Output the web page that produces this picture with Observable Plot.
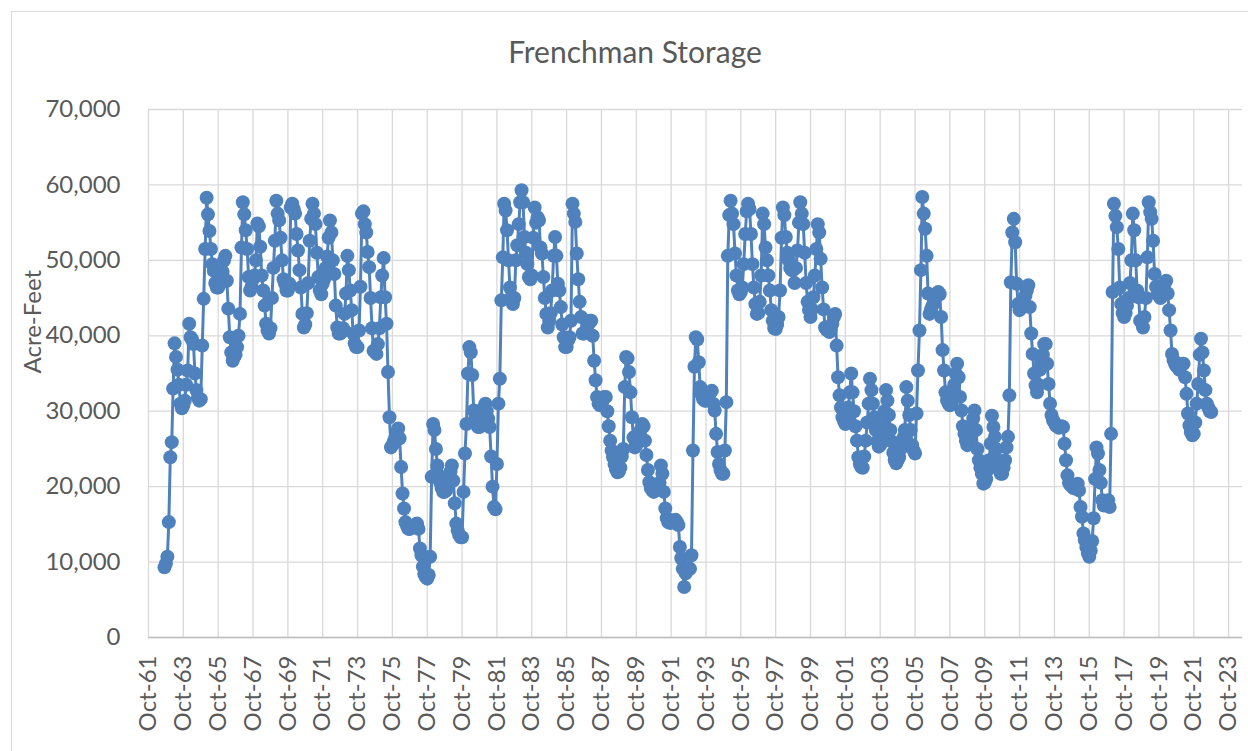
<!DOCTYPE html>
<html>
<head>
<meta charset="utf-8">
<script src="https://cdn.jsdelivr.net/npm/d3@7"></script>
<script src="https://cdn.jsdelivr.net/npm/@observablehq/plot@0.6"></script>
<style>
  html, body { margin: 0; padding: 0; background: #fff; overflow: hidden; }
  #wrap { position: relative; width: 1248px; height: 751px; overflow: hidden; font-family: Lato, "Open Sans", sans-serif; }
  #border { position: absolute; left: 11px; top: 11px; right: -10px; bottom: -10px; border: 1px solid #d9d9d9; pointer-events: none; }
  #title { position: absolute; left: 22px; width: 1226px; top: 33px; text-align: center; font-size: 30px; color: #595959; }
  #chart { position: absolute; left: 0; top: 0; }
</style>
</head>
<body>
<div id="wrap">
  <div id="chart"></div>
  <div id="border"></div>
  <div id="title">Frenchman Storage</div>
</div>
<script>
// Monthly storage in thousand acre-feet, first value = Sep 1962.
const firstMonth = [1962, 8]; // year, month index (Sep)

const storage1960s = [
  9.3,
  9.8, 10.7, 15.3, 23.9, 25.9, 33, 39, 37.2, 35.5, 33.5, 31, 30.4,
  30.8, 31.4, 33.5, 35.4, 41.6, 39.8, 39.5, 38.9, 35, 32.8, 31.8, 31.4,
  31.6, 38.7, 44.9, 51.5, 58.3, 56.1, 53.9, 51.5, 49.5, 48.6, 47, 46.4,
  46.4, 46.8, 47.5, 48.5, 50, 50.6, 47.3, 43.6, 39.8, 37.8, 36.7, 37.2,
  37.5, 38.5, 40, 42.9, 51.7, 57.7, 56.1, 54, 51.5, 47.8, 46, 46.5,
  47.5, 48, 50, 54.9, 54.5, 51.8, 48, 46, 44, 41.6, 40.7, 40.3,
  41, 45, 49, 52.6, 57.9, 56.2, 55.3, 53, 50, 47.5, 46.9, 46,
  46, 46.9, 57, 57.5, 56.8, 56.2, 53.5, 51.3, 48.7, 46.4, 42.9, 41.1
];
const storage1970s = [
  41.5, 43, 47, 52.6, 55.5, 57.5, 56.2, 54.8, 51, 47.8, 46, 45.5,
  46.9, 47.5, 49, 50.5, 53, 55.3, 53.7, 50, 48.2, 44, 41.1, 40.3,
  40.3, 40.5, 41, 42.9, 45.6, 50.6, 48.7, 46, 43.4, 40.3, 39, 38.5,
  38.5, 40.7, 46.5, 56.2, 56.5, 54.8, 53.7, 51.1, 49.1, 45, 41, 38,
  38, 37.6, 38.9, 41, 45.1, 48, 50.3, 45.1, 41.6, 35.2, 29.2, 25.2,
  25.5, 26, 26.5, 27.2, 27.7, 26.4, 22.6, 19.1, 17.1, 15.3, 14.8, 14.4,
  14.4, 14.5, 14.6, 14.8, 15, 15.1, 14.4, 11.8, 10.9, 9.4, 8.4, 8.0,
  7.8, 8.3, 10.7, 21.3, 28.3, 27.5, 25, 22.8, 21.5, 20.5, 19.8, 19.3,
  19.3, 19.5, 20.2, 21, 22, 22.8, 20.8, 17.8, 15.1, 14.2, 13.6, 13.3,
  13.3, 19.3, 24.4, 28.3, 35, 38.5, 37.8, 34.8, 30.1, 29, 28.3, 27.9
];
const storage1980s = [
  27.9, 28.5, 29.5, 30.5, 31, 30, 29, 27.9, 24, 20, 17.3, 17,
  23, 31, 34.3, 44.7, 50.4, 57.5, 56.6, 54, 50, 46.4, 45.1, 44.2,
  45, 50, 52, 54.8, 57.7, 59.3, 57.7, 53.1, 51, 49.5, 47.8, 47.5,
  48, 53, 57, 55, 55.7, 55.3, 51.7, 50.9, 47.8, 45, 42.9, 41.1,
  42, 43, 46, 50.6, 53.1, 50.6, 46.9, 46, 43.8, 41.5, 39.8, 38.5,
  38.5, 39.4, 39.8, 42, 57.5, 56.2, 55.1, 50.9, 47.5, 44.5, 42.5, 40.3,
  40.3, 40.5, 41, 41.5, 42, 42, 40, 36.7, 34.1, 31.9, 31, 30.8,
  31, 31.5, 31.9, 31.9, 30, 28, 26.1, 24.8, 23.9, 23, 22.3, 21.9,
  22, 22.5, 24, 25, 33.2, 37.2, 37, 35.2, 32.5, 29.2, 26.5, 25.2,
  25.5, 26, 26.5, 27.5, 28.3, 28, 26.1, 24.2, 22.2, 20.6, 19.8, 19.5
];
const storage1990s = [
  19.3, 19.5, 19.8, 20, 20.5, 22.8, 21.7, 19.3, 17.1, 15.8, 15.3, 15.2,
  15.2, 15.3, 15.5, 15.6, 15.3, 14.9, 12, 10.5, 9.1, 6.7, 8.5, 9,
  9.2, 9.1, 10.9, 24.8, 35.9, 39.8, 39.5, 36.5, 33.2, 32.2, 31.6, 31.4,
  31.4, 31.8, 32.3, 32.5, 32.7, 31, 30.1, 27, 24.6, 23, 22.2, 21.7,
  21.7, 24.8, 31.2, 50.6, 56, 57.9, 56.2, 54.8, 50.9, 48, 46, 45.5,
  45.8, 46.4, 49.5, 53.5, 56.5, 57.5, 56.8, 53.5, 49.5, 46.4, 44.2, 42.9,
  43, 44.5, 48, 56.2, 54.8, 51.7, 50, 48, 46, 43.4, 42, 41,
  40.9, 41.5, 42.5, 46, 53, 57, 56, 53.1, 51, 50, 49, 48.7,
  48.7, 47, 49, 51.3, 55, 57.7, 56.2, 54.8, 51, 47, 44.5, 43.4,
  42.5, 43.5, 45.1, 48, 51.5, 54.8, 53.7, 50.2, 46.4, 43.5, 41.1, 40.8
];
const storage2000s = [
  40.7, 40.5, 40.8, 41.6, 42.5, 42.9, 38.7, 34.5, 32.1, 30.5, 29.2, 28.7,
  28.3, 28.8, 30.5, 32.5, 35, 32.5, 30, 28, 26.1, 23.9, 23, 22.6,
  22.5, 24, 26.1, 28.5, 31, 34.3, 32.8, 31, 29.2, 27.5, 26, 25.3,
  25.5, 26.5, 28.3, 30, 32.8, 31.4, 29.5, 27.5, 26, 24.5, 23.5, 23.1,
  23.5, 23.9, 25, 26, 26.5, 27.5, 33.2, 31.4, 29.5, 27.5, 25.5, 24.8,
  24.4, 29.7, 35.4, 40.7, 48.7, 58.4, 56.2, 54.2, 50.6, 45.6, 42.9, 43.5,
  44, 44.5, 45, 45.5, 45.8, 45.5, 42.5, 38.1, 35.4, 32.5, 31.5, 31,
  30.8, 31, 32, 33.5, 35, 36.3, 34.5, 31.9, 30.1, 28, 27, 26.1,
  25.5, 26, 26.5, 27.5, 29, 30.1, 27.5, 25, 23.5, 22.5, 21.7, 20.4,
  20.5, 21, 22.2, 23.5, 25.7, 29.4, 27.9, 26.6, 25, 23.5, 22.5, 21.7
];
const storage2010s = [
  21.7, 22.5, 23.5, 25.2, 26.6, 32.1, 47.1, 53.7, 55.5, 52.4, 46.9, 44.2,
  43.4, 44, 44.2, 44.5, 45.3, 46, 46.7, 43.8, 40.3, 37.6, 35, 33.4,
  32.5, 33.5, 35.5, 36.5, 37.5, 38.9, 38.9, 36.3, 33.6, 31, 29.5, 28.8,
  28.5, 28.1, 28, 27.8, 27.9, 28, 27.9, 25.7, 23.5, 21.5, 20.5, 20.2,
  20.2, 19.8, 20, 20.2, 20.4, 19.5, 17.3, 16, 13.8, 12.9, 12, 11.2,
  10.7, 11.5, 12.8, 15.8, 21, 25.2, 24.4, 22.2, 20.5, 18.2, 17.5, 17.7,
  17.7, 18.2, 17.3, 27, 45.8, 57.5, 55.9, 54.4, 51.5, 46.4, 44.2, 43,
  42.5, 43, 44, 45, 47, 50, 56.2, 54, 50, 46, 45.1, 42,
  42, 41.1, 42.5, 45, 50.4, 57.7, 56.4, 55.5, 52.6, 48.2, 46.5, 45.5,
  45.5, 45, 46.4, 46.5, 47, 47.3, 45.6, 43.4, 40.7, 37.6, 36.8, 36.3
];
const storage2020s = [
  36, 35.8, 35.5, 36, 36.3, 36.3, 34.5, 32.3, 29.7, 28.1, 27.2, 26.8,
  27, 28.5, 31, 33.6, 37.5, 39.6, 37.8, 35.4, 32.8, 31, 30.5, 30,
  29.9
];

const yTicks = [0, 10000, 20000, 30000, 40000, 50000, 60000, 70000];
const xTickYears = d3.range(1961, 2024, 2);
const xTickLabels = xTickYears.map(y => "Oct-" + String(y % 100).padStart(2, "0"));

const yTitle = "Acre-Feet";
const lineColor = "#4F81BD";
const textColor = "#595959";
const gridColor = "#d9d9d9";

const allKaf = [].concat(storage1960s, storage1970s, storage1980s, storage1990s, storage2000s, storage2010s, storage2020s);
const start = new Date(Date.UTC(firstMonth[0], firstMonth[1], 1));
const data = allKaf.map((v, i) => ({ date: d3.utcMonth.offset(start, i), value: v * 1000 }));

const xTicks = xTickYears.map(y => new Date(Date.UTC(y, 9, 1)));
const labelOf = new Map(xTicks.map((d, i) => [+d, xTickLabels[i]]));

const chart = Plot.plot({
  width: 1248,
  height: 751,
  marginLeft: 148,
  marginRight: 6,
  marginTop: 109,
  marginBottom: 114,
  style: { fontFamily: "Lato, 'Open Sans', sans-serif", fontSize: "24px", color: textColor, background: "transparent", overflow: "visible" },
  x: { type: "utc", domain: [new Date(Date.UTC(1961, 9, 1)), new Date(Date.UTC(2024, 6, 18))] },
  y: { domain: [0, 70000] },
  marks: [
    Plot.gridY(yTicks, { stroke: gridColor, strokeOpacity: 1, strokeWidth: 1.3 }),
    Plot.gridX(xTicks, { stroke: gridColor, strokeOpacity: 1, strokeWidth: 1.3 }),
    Plot.ruleY([0], { stroke: "#bfbfbf", strokeWidth: 1.3 }),
    Plot.axisY(yTicks, { tickSize: 0, tickPadding: 28, tickFormat: d3.format(","), label: null, fill: textColor, fontSize: 24 }),
    Plot.axisX(xTicks, { tickSize: 0, tickPadding: 18, tickRotate: -90, tickFormat: d => labelOf.get(+d), label: null, fill: textColor, fontSize: 24 }),
    Plot.text([yTitle], { frameAnchor: "left", dx: -115, rotate: -90, fill: textColor, fontSize: 24 }),
    Plot.line(data, { x: "date", y: "value", stroke: lineColor, strokeWidth: 3 }),
    Plot.dot(data, { x: "date", y: "value", r: 7, fill: lineColor, stroke: "none" })
  ]
});
document.getElementById("chart").appendChild(chart);
</script>
</body>
</html>
